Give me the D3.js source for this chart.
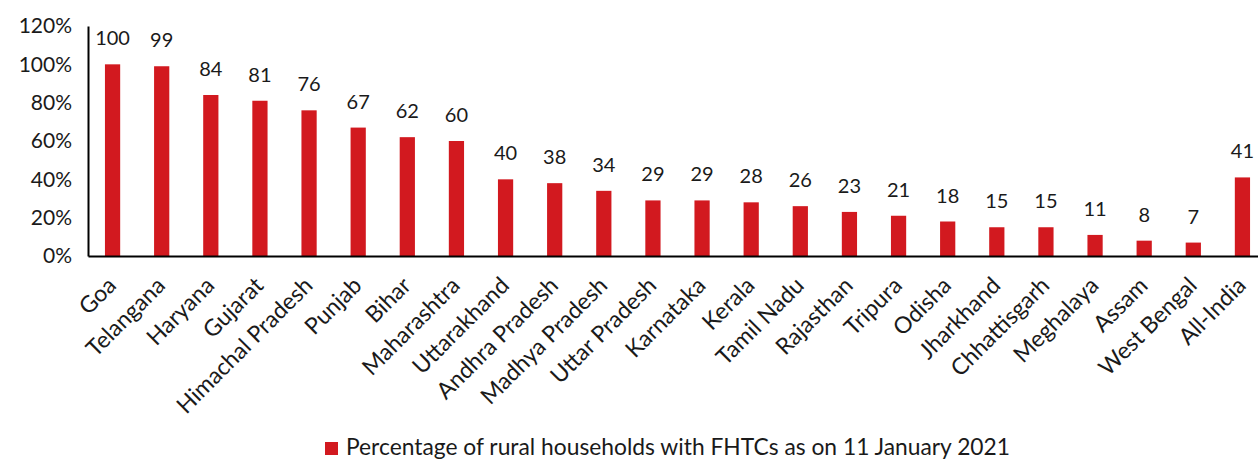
<!DOCTYPE html>
<html>
<head>
<meta charset="utf-8">
<script src="https://cdn.jsdelivr.net/npm/d3@7"></script>
<style>
  body { margin: 0; background: #fff; }
  svg text { font-family: Lato, "Open Sans", sans-serif; fill: #1a1a1a; }
</style>
</head>
<body>
<div id="chart"></div>
<script>
// states, sorted as in the source figure
const states = ["Goa", "Telangana", "Haryana", "Gujarat", "Himachal Pradesh", "Punjab", "Bihar",
    "Maharashtra", "Uttarakhand", "Andhra Pradesh", "Madhya Pradesh", "Uttar Pradesh", "Karnataka",
    "Kerala", "Tamil Nadu", "Rajasthan", "Tripura", "Odisha", "Jharkhand", "Chhattisgarh",
    "Meghalaya", "Assam", "West Bengal", "All-India"];
const coverage = [100, 99, 84, 81, 76, 67, 62, 60, 40, 38, 34, 29, 29, 28, 26, 23, 21, 18, 15, 15, 11, 8, 7, 41];
const yTicks = [0, 20, 40, 60, 80, 100, 120];
const legendLabel = "Percentage of rural households with FHTCs as on 11 January 2021";

const data = states.map((s, i) => ({state: s, value: coverage[i]}));

const width = 1258, height = 459;
const margin = {top: 26, right: -9, bottom: 203, left: 88};
const red = "#d2191f";

const svg = d3.select("#chart").append("svg")
    .attr("width", width)
    .attr("height", height);

const x = d3.scaleBand()
    .domain(states)
    .range([margin.left, width - margin.right])
    .paddingInner(0.69)
    .paddingOuter(0.345);

const y = d3.scaleLinear()
    .domain([0, 120])
    .range([height - margin.bottom, margin.top]);

// bars
svg.selectAll(".bar")
    .data(data)
    .enter()
    .append("rect")
    .attr("class", "bar")
    .attr("x", d => x(d.state))
    .attr("width", x.bandwidth())
    .attr("y", d => y(d.value))
    .attr("height", d => y(0) - y(d.value))
    .attr("fill", red);

// value labels
svg.selectAll(".val")
    .data(data)
    .enter()
    .append("text")
    .attr("class", "val")
    .attr("x", d => x(d.state) + x.bandwidth() / 2)
    .attr("y", d => y(d.value) - 19)
    .attr("text-anchor", "middle")
    .style("font-size", "20px")
    .text(d => d.value);

// y axis
const yAxis = svg.append("g")
    .attr("transform", `translate(${margin.left},0)`)
    .call(d3.axisLeft(y).tickValues(yTicks).tickSize(0).tickPadding(16).tickFormat(d => d + "%"));
yAxis.select(".domain").attr("stroke", "#000").attr("stroke-width", 2);
yAxis.selectAll("text").style("font-size", "21px").style("font-family", "Lato, sans-serif");

// x axis
const xAxis = svg.append("g")
    .attr("transform", `translate(0,${y(0)})`)
    .call(d3.axisBottom(x).tickSize(0).tickPadding(0));
xAxis.select(".domain").attr("stroke", "#000").attr("stroke-width", 2);
xAxis.selectAll("text")
    .style("font-size", "23px")
    .style("font-family", "Lato, sans-serif")
    .attr("text-anchor", "end")
    .attr("dy", null)
    .attr("y", 0)
    .attr("transform", "translate(5,31) rotate(-45)");

// legend
const legend = svg.append("g")
    .attr("transform", "translate(325,442)");
legend.append("rect")
    .attr("width", 13)
    .attr("height", 13)
    .attr("fill", red);
legend.append("text")
    .attr("x", 21)
    .attr("y", 13)
    .style("font-size", "22.8px")
    .text(legendLabel);
</script>
</body>
</html>
